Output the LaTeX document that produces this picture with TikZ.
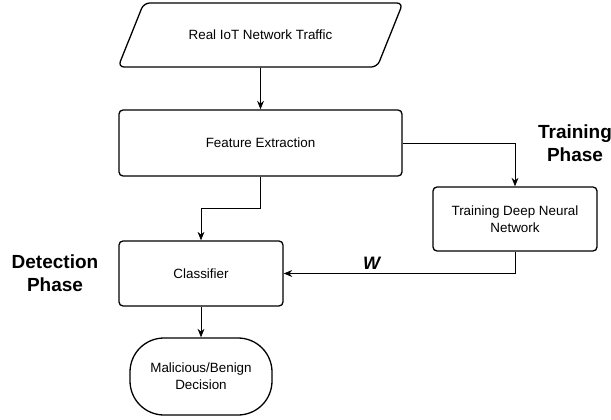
\documentclass[tikz,border=0pt]{standalone}
\usepackage{fontspec}
\setmainfont{Liberation Sans}
\usetikzlibrary{arrows.meta,shapes.geometric}
\tikzset{
  box/.style={draw, rounded corners=4pt, line width=1.3pt, align=center,
              font=\fontsize{13.4}{17}\selectfont, fill=white},
  datain/.style={box, trapezium, trapezium left angle=45, trapezium right angle=135,
                 trapezium stretches=true, rounded corners=6pt},
  term/.style={box, rounded corners=34pt},
  phase/.style={align=center, font=\fontsize{19}{23}\selectfont\bfseries},
  edge/.style={-{Stealth[length=3mm,width=2.4mm]}, line width=0.8pt}
}

\begin{document}
\begin{tikzpicture}[x=1pt, y=-1pt]
  \useasboundingbox (0,0) rectangle (611,420);

  \node[datain, minimum width=285, minimum height=64] (traffic) at (260.5,35) {Real IoT Network Traffic};
  \node[box, minimum width=283, minimum height=66] (feat) at (260.5,143) {Feature Extraction};
  \node[box, minimum width=164, minimum height=64] (train) at (515,219) {Training Deep Neural\\Network};
  \node[box, minimum width=164, minimum height=65] (clf) at (201,273.5) {Classifier};
  \node[term, minimum width=142, minimum height=77] (dec) at (201,376.5) {Malicious/Benign\\Decision};

  \node[phase] (trainlbl) at (575,143) {Training\\Phase};
  \node[phase] (detlbl) at (55,273) {Detection\\Phase};

  \draw[edge] (traffic) -- (feat);
  \draw[edge] (feat.south) -- ++(0,32) -| (clf.north);
  \draw[edge] (feat.east) -| (train.north);
  \draw[edge] (train.south) |- node[pos=0.81, above=0pt, font=\fontsize{18}{20}\selectfont\bfseries\itshape]{W} (clf.east);
  \draw[edge] (clf) -- (dec);
\end{tikzpicture}
\end{document}
